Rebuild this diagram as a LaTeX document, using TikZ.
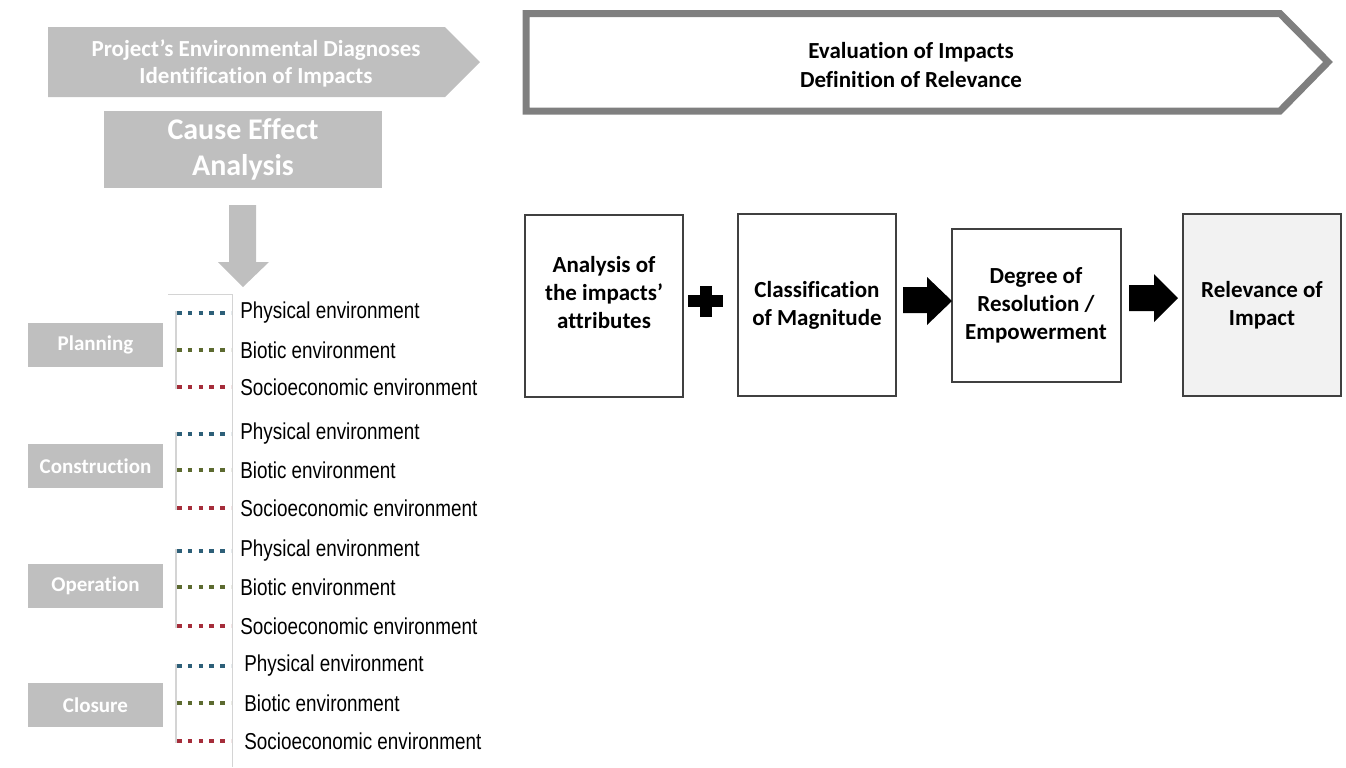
\documentclass[tikz,border=0pt]{standalone}
\usepackage{fontspec}
\setmainfont{Carlito}[Ligatures=NoCommon]
\newfontfamily\legendfont{Liberation Sans}[FakeStretch=0.82]
\usetikzlibrary{calc}

\definecolor{phasegrey}{RGB}{191,191,191}
\definecolor{framegrey}{RGB}{127,127,127}
\definecolor{boxline}{RGB}{64,64,64}
\definecolor{relfill}{RGB}{242,242,242}
\definecolor{physcol}{RGB}{45,95,120}
\definecolor{biocol}{RGB}{92,106,48}
\definecolor{sociocol}{RGB}{165,45,58}
\definecolor{bracketgrey}{RGB}{212,212,212}

\tikzset{
  phasebox/.style={fill=phasegrey, text=white, font=\bfseries\fontsize{10.5}{12}\selectfont,
    minimum width=67.5pt, minimum height=22pt, inner sep=0pt},
  stepbox/.style={draw=boxline, line width=1pt, align=center, inner sep=0pt,
    font=\bfseries\fontsize{11.5}{14}\selectfont, minimum width=79pt, minimum height=91pt},
  envtext/.style={anchor=west, inner sep=0pt, font=\legendfont\fontsize{11.5}{13}\selectfont},
  envdots/.style={line width=2pt, dash pattern=on 2.3pt off 3.1pt},
}

\begin{document}
\begin{tikzpicture}[x=0.5pt, y=-0.5pt]
  \useasboundingbox (0,0) rectangle (1346,767);

  % left column: diagnoses
  \fill[phasegrey] (48,27) -- (445,27) -- (480,62) -- (445,97) -- (48,97) -- cycle;
  \node[text=white, align=center, font=\bfseries\fontsize{11.5}{13.5}\selectfont] (diag) at (256,63)
    {Project’s Environmental Diagnoses\\Identification of Impacts};

  \node[fill=phasegrey, text=white, align=center, inner sep=0pt, minimum width=139pt, minimum height=38.5pt,
    font=\bfseries\fontsize{15}{18}\selectfont] (cause) at (243,149.5) {Cause Effect\\Analysis};

  \fill[phasegrey] (229,205) -- (256,205) -- (256,262) -- (269,262) -- (243,287)
    -- (218,262) -- (229,262) -- cycle;

  % legend frame
  \draw[bracketgrey, line width=0.5pt] (168,294) -- (232,294) -- (232,767);

  \node[phasebox] (plan) at (95.5,345) {Planning};
  \node[phasebox] (constr) at (95.5,466) {Construction};
  \node[phasebox] (oper) at (95.5,586) {Operation};
  \node[phasebox] (clos) at (95.5,705) {Closure};

  \foreach \ya/\yb/\yc/\tx [count=\i] in {313/350/387/240, 434/470/508/240, 551/587/626/240, 666/703/741/244} {
    \draw[bracketgrey, line width=0.6pt] (176,\ya-2) -- (176,\yc+2);
    \draw[envdots, physcol] (177,\ya) -- (231,\ya);
    \draw[envdots, biocol] (177,\yb) -- (231,\yb);
    \draw[envdots, sociocol] (177,\yc) -- (231,\yc);
    \node[envtext] (phys\i) at (\tx,\ya) {Physical environment};
    \node[envtext] (bio\i) at (\tx,\yb) {Biotic environment};
    \node[envtext] (socio\i) at (\tx,\yc) {Socioeconomic environment};
  }

  % right side: evaluation
  \draw[framegrey, line width=3.5pt, line join=miter] (526,13.5) -- (1280,13.5) -- (1328,62)
    -- (1280,111) -- (526,111) -- cycle;
  \node[align=center, font=\bfseries\fontsize{11.5}{14.5}\selectfont] (evalhead) at (911,65.5)
    {Evaluation of Impacts\\Definition of Relevance};

  \node[stepbox] (attr) at (604,306) {Analysis of\\the impacts’\\attributes\\\mbox{}};
  \node[stepbox] (magn) at (817,305) {Classification\\of Magnitude};
  \node[stepbox, minimum width=84.5pt, minimum height=76.5pt] (degree) at (1036,305.5)
    {Degree of\\Resolution /\\Empowerment};
  \node[stepbox, fill=relfill] (relev) at (1262,305) {Relevance of\\Impact};

  % plus and block arrows
  \fill (688,295) rectangle (723,307);
  \fill (700,286) rectangle (712,317);
  \fill (903,287) -- (927,287) -- (927,277) -- (952,301) -- (927,325) -- (927,313) -- (903,313) -- cycle;
  \fill (1129,285) -- (1154,285) -- (1154,274) -- (1178,298) -- (1154,322) -- (1154,311) -- (1129,311) -- cycle;
\end{tikzpicture}
\end{document}
